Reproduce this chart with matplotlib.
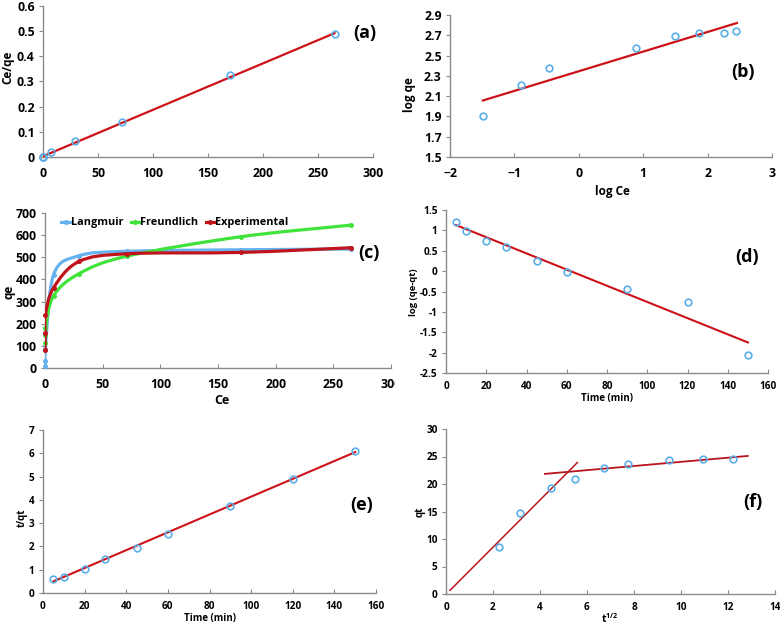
import matplotlib
matplotlib.use('Agg')
import matplotlib.pyplot as plt
import numpy as np
from matplotlib.path import Path
from matplotlib.patches import PathPatch, Rectangle
from matplotlib.lines import Line2D

W, H = 780, 625
plt.rcParams['font.family'] = ['Open Sans', 'DejaVu Sans']
plt.rcParams['font.weight'] = 'bold'
plt.rcParams['mathtext.fontset'] = 'custom'
plt.rcParams['mathtext.bf'] = 'Open Sans:bold'
plt.rcParams['mathtext.rm'] = 'Open Sans:bold'

# ---------------- data ----------------
# (a) Langmuir linear
a_ce = [0.03, 0.13, 0.33, 7.4, 29.5, 71.5, 170, 265]
a_ratio = [0.0004, 0.0008, 0.0014, 0.020, 0.062, 0.138, 0.324, 0.487]
a_fit_x = [0, 265]
a_fit_y = [0.003, 0.492]

# (b) Freundlich linear
b_logce = [-1.49, -0.89, -0.465, 0.889, 1.496, 1.874, 2.253, 2.445]
b_logqe = [1.90, 2.205, 2.382, 2.575, 2.69, 2.72, 2.726, 2.743]
b_fit_x = [-1.49, 2.455]
b_fit_y = [2.057, 2.821]

# (c) isotherm curves
c_ce = [0.03, 0.13, 0.33, 7.4, 29.5, 71, 170, 265]
c_langmuir = [8, 33, 88, 421, 507, 527, 534, 537]
c_freundlich = [113, 150, 180, 326, 426, 505, 593, 645]
c_experimental = [80, 160, 240, 362, 481, 516, 522, 543]

# (d) pseudo-first-order
d_time = [5, 10, 20, 30, 45, 60, 90, 120, 150]
d_log = [1.214, 0.994, 0.74, 0.586, 0.25, -0.01, -0.45, -0.76, -2.06]
d_fit_x = [5, 150]
d_fit_y = [1.13, -1.75]

# (e) pseudo-second-order
e_time = [5, 10, 20, 30, 45, 60, 90, 120, 150]
e_tq = [0.59, 0.69, 1.03, 1.45, 1.95, 2.53, 3.72, 4.91, 6.10]
e_fit_x = [5, 150]
e_fit_y = [0.50, 6.05]

# (f) intraparticle diffusion
f_sqrt_t = [2.24, 3.16, 4.48, 5.48, 6.71, 7.73, 9.48, 10.92, 12.23]
f_qt = [8.53, 14.8, 19.2, 20.9, 22.9, 23.7, 24.3, 24.5, 24.6]
f_fit1_x = [0.17, 5.59]
f_fit1_y = [0.67, 23.9]
f_fit2_x = [4.21, 12.84]
f_fit2_y = [21.84, 25.1]

# ---------------- style ----------------
MK = '#5AAEE8'
RED = '#CC1118'
SPINE = '#8A8A8A'
BLUE_L = '#67B3F0'
GREEN = '#3FE33A'
RED_C = '#C0141C'

fig = plt.figure(figsize=(7.8, 6.25), dpi=100)


def axes_px(l, t, r, b, z=1):
    return fig.add_axes([l / W, 1 - b / H, (r - l) / W, (b - t) / H], zorder=z)


def style(ax, fs, xpad):
    for s in ['top', 'right']:
        ax.spines[s].set_visible(False)
    for s in ['left', 'bottom']:
        ax.spines[s].set_color(SPINE)
        ax.spines[s].set_linewidth(1.0)
    ax.tick_params(axis='x', direction='in', length=3, color=SPINE, labelsize=fs, pad=xpad)
    ax.tick_params(axis='y', direction='out', length=3, color=SPINE, labelsize=fs, pad=3)
    for lab in ax.get_xticklabels() + ax.get_yticklabels():
        lab.set_fontweight('bold')
    ax.patch.set_alpha(0)


def ftext(x, y, s, fs, rot=0, ha='center', va='center', z=5):
    fig.text(x / W, 1 - y / H, s, fontsize=fs, rotation=rot, ha=ha, va=va,
             fontweight='bold', zorder=z)


def points(ax, x, y):
    ax.plot(x, y, 'o', mfc='none', mec=MK, ms=4.8, mew=1.2, zorder=4, clip_on=False)


def smooth_path(x, y):
    P = np.column_stack([x, y]).astype(float)
    n = len(P)
    verts = [P[0]]
    codes = [Path.MOVETO]
    for i in range(n - 1):
        p0 = P[i - 1] if i > 0 else P[i]
        p1 = P[i]
        p2 = P[i + 1]
        p3 = P[i + 2] if i + 2 < n else P[i + 1]
        verts += [p1 + (p2 - p0) / 6, p2 - (p3 - p1) / 6, p2]
        codes += [Path.CURVE4] * 3
    return Path(verts, codes)


# ---------------- (a) ----------------
ax = axes_px(43, 6, 373, 157)
ax.set_xlim(0, 300); ax.set_ylim(0, 0.6)
ax.set_xticks(np.arange(0, 301, 50)); ax.set_yticks(np.arange(0, 0.61, 0.1))
ax.set_yticklabels(['0', '0.1', '0.2', '0.3', '0.4', '0.5', '0.6'])
ax.plot(a_fit_x, a_fit_y, color=RED, lw=1.6, zorder=3)
points(ax, a_ce, a_ratio)
style(ax, 8.8, 7)
ftext(8, 67, 'Ce/qe', 8.5, rot=90)
ftext(365, 33, '(a)', 13)

# ---------------- (b) ----------------
ax = axes_px(450, 15, 772, 157)
ax.set_xlim(-2, 3); ax.set_ylim(1.5, 2.9)
ax.set_xticks(np.arange(-2, 3.1, 1)); ax.set_yticks(np.arange(1.5, 2.91, 0.2))
ax.set_yticklabels(['1.5', '1.7', '1.9', '2.1', '2.3', '2.5', '2.7', '2.9'])
ax.plot(b_fit_x, b_fit_y, color=RED, lw=1.6, zorder=3)
points(ax, b_logce, b_logqe)
style(ax, 8.8, 7)
ftext(410, 95, 'log qe', 8.5, rot=90)
ftext(612, 191, 'log Ce', 8.5)
ftext(743, 72, '(b)', 13)

# ---------------- (c) ----------------
ax = axes_px(45, 213, 391, 368, z=0)
ax.set_xlim(0, 300); ax.set_ylim(0, 700)
ax.set_xticks(np.arange(0, 301, 50)); ax.set_yticks(np.arange(0, 701, 100))
series = [(c_langmuir, BLUE_L, 'Langmuir'), (c_freundlich, GREEN, 'Freundlich'),
          (c_experimental, RED_C, 'Experimental')]
zs = {'Langmuir': 3, 'Freundlich': 3.2, 'Experimental': 3.4}
for yv, col, name in series:
    ax.add_patch(PathPatch(smooth_path(c_ce, yv), fill=False, edgecolor=col, lw=2.3,
                           zorder=zs[name], capstyle='round'))
    ax.plot(c_ce, yv, 'o', color=col, ms=2.6, zorder=zs[name] + 0.05, clip_on=False)
handles = [Line2D([], [], color=c, lw=2.3, marker='o', ms=2.6) for _, c, _ in series]
leg = ax.legend(handles, [n for _, _, n in series], loc='upper left', ncol=3,
                bbox_to_anchor=(0.035, 1.0), frameon=False,
                handlelength=0.75, handletextpad=0.1, columnspacing=0.7,
                borderaxespad=0, prop={'weight': 'bold', 'size': 7.8})
style(ax, 8.8, 7)
ftext(9, 292, 'qe', 8.5, rot=90)
ftext(222, 400, 'Ce', 9)
ftext(369, 253, '(c)', 13)
fig.add_artist(Rectangle((395 / W, 1 - 420 / H), (W - 395) / W, 220 / H,
                         transform=fig.transFigure, facecolor='white',
                         edgecolor='none', zorder=0.5))

# ---------------- (d) ----------------
ax = axes_px(446, 210, 768, 373, z=1)
ax.set_xlim(0, 160); ax.set_ylim(-2.5, 1.5)
ax.set_xticks(np.arange(0, 161, 20)); ax.set_yticks(np.arange(-2.5, 1.51, 0.5))
ax.set_yticklabels(['-2.5', '-2', '-1.5', '-1', '-0.5', '0', '0.5', '1', '1.5'])
ax.plot(d_fit_x, d_fit_y, color=RED, lw=1.5, zorder=3)
points(ax, d_time, d_log)
style(ax, 7.2, 6)
ftext(413, 292, 'log (qe-qt)', 6.8, rot=90)
ftext(607, 399, 'Time (min)', 7)
ftext(747, 257, '(d)', 13)

# ---------------- (e) ----------------
ax = axes_px(43, 430, 376, 593)
ax.set_xlim(0, 160); ax.set_ylim(0, 7)
ax.set_xticks(np.arange(0, 161, 20)); ax.set_yticks(np.arange(0, 7.1, 1))
ax.plot(e_fit_x, e_fit_y, color=RED, lw=1.5, zorder=3)
points(ax, e_time, e_tq)
style(ax, 7.2, 6)
ftext(22, 518, 't/qt', 7, rot=90)
ftext(210, 619, 'Time (min)', 7)
ftext(362, 505, '(e)', 13)

# ---------------- (f) ----------------
ax = axes_px(446, 429, 775, 594)
ax.set_xlim(0, 14); ax.set_ylim(0, 30)
ax.set_xticks(np.arange(0, 15, 2)); ax.set_yticks(np.arange(0, 31, 5))
ax.plot(f_fit1_x, f_fit1_y, color='#B8141E', lw=1.1, zorder=3)
ax.plot(f_fit2_x, f_fit2_y, color='#B8141E', lw=1.3, zorder=3)
points(ax, f_sqrt_t, f_qt)
style(ax, 7.2, 6)
ftext(420, 512, 'qt', 7, rot=90)
ftext(610, 619, '$\\mathbf{t^{1/2}}$', 7.5)
ftext(753, 502, '(f)', 13)

fig.savefig('out.png', dpi=100)
